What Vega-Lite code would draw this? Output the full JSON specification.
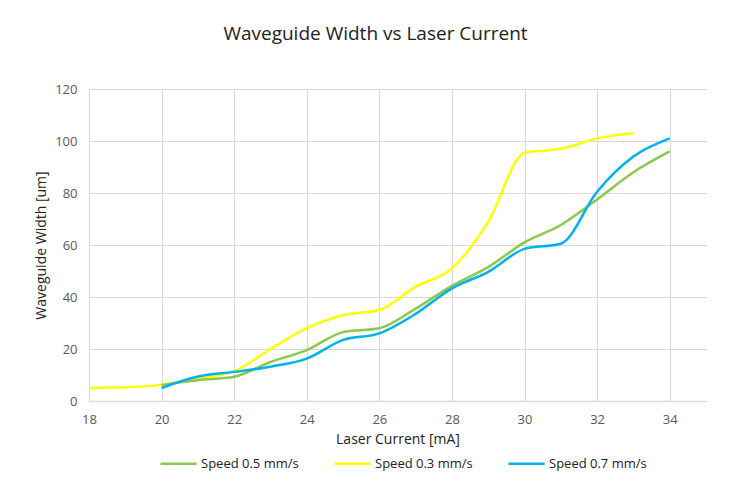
{
  "$schema": "https://vega.github.io/schema/vega-lite/v6.json",
  "width": 617,
  "height": 312,
  "autosize": {"type": "none"},
  "padding": {"left": 89, "top": 89, "right": 45, "bottom": 93},
  "background": "white",
  "title": {
    "text": "Waveguide Width vs Laser Current",
    "font": "Open Sans",
    "fontSize": 19,
    "fontWeight": "normal",
    "color": "#222222",
    "anchor": "middle",
    "dx": -22,
    "offset": 39
  },
  "data": {
    "values": [
      {"current": 18, "width": 5.1, "series": "Speed 0.3 mm/s"},
      {"current": 19, "width": 5.3, "series": "Speed 0.3 mm/s"},
      {"current": 20, "width": 6.3, "series": "Speed 0.3 mm/s"},
      {"current": 21, "width": 8.8, "series": "Speed 0.3 mm/s"},
      {"current": 22, "width": 11.5, "series": "Speed 0.3 mm/s"},
      {"current": 23, "width": 20, "series": "Speed 0.3 mm/s"},
      {"current": 24, "width": 28, "series": "Speed 0.3 mm/s"},
      {"current": 25, "width": 33, "series": "Speed 0.3 mm/s"},
      {"current": 26, "width": 35, "series": "Speed 0.3 mm/s"},
      {"current": 27, "width": 44, "series": "Speed 0.3 mm/s"},
      {"current": 28, "width": 51, "series": "Speed 0.3 mm/s"},
      {"current": 29, "width": 69, "series": "Speed 0.3 mm/s"},
      {"current": 30, "width": 95.5, "series": "Speed 0.3 mm/s"},
      {"current": 31, "width": 97, "series": "Speed 0.3 mm/s"},
      {"current": 32, "width": 101, "series": "Speed 0.3 mm/s"},
      {"current": 33, "width": 103, "series": "Speed 0.3 mm/s"},
      {"current": 20, "width": 6.2, "series": "Speed 0.5 mm/s"},
      {"current": 21, "width": 8, "series": "Speed 0.5 mm/s"},
      {"current": 22, "width": 9.3, "series": "Speed 0.5 mm/s"},
      {"current": 23, "width": 15, "series": "Speed 0.5 mm/s"},
      {"current": 24, "width": 19.6, "series": "Speed 0.5 mm/s"},
      {"current": 25, "width": 26.5, "series": "Speed 0.5 mm/s"},
      {"current": 26, "width": 28, "series": "Speed 0.5 mm/s"},
      {"current": 27, "width": 35.5, "series": "Speed 0.5 mm/s"},
      {"current": 28, "width": 44.3, "series": "Speed 0.5 mm/s"},
      {"current": 29, "width": 51.5, "series": "Speed 0.5 mm/s"},
      {"current": 30, "width": 61, "series": "Speed 0.5 mm/s"},
      {"current": 31, "width": 67.7, "series": "Speed 0.5 mm/s"},
      {"current": 32, "width": 77.5, "series": "Speed 0.5 mm/s"},
      {"current": 33, "width": 88, "series": "Speed 0.5 mm/s"},
      {"current": 34, "width": 96, "series": "Speed 0.5 mm/s"},
      {"current": 20, "width": 5, "series": "Speed 0.7 mm/s"},
      {"current": 21, "width": 9.4, "series": "Speed 0.7 mm/s"},
      {"current": 22, "width": 11.2, "series": "Speed 0.7 mm/s"},
      {"current": 23, "width": 13.2, "series": "Speed 0.7 mm/s"},
      {"current": 24, "width": 16.3, "series": "Speed 0.7 mm/s"},
      {"current": 25, "width": 23.5, "series": "Speed 0.7 mm/s"},
      {"current": 26, "width": 26, "series": "Speed 0.7 mm/s"},
      {"current": 27, "width": 33.5, "series": "Speed 0.7 mm/s"},
      {"current": 28, "width": 43.3, "series": "Speed 0.7 mm/s"},
      {"current": 29, "width": 49.7, "series": "Speed 0.7 mm/s"},
      {"current": 30, "width": 58.5, "series": "Speed 0.7 mm/s"},
      {"current": 31, "width": 60.5, "series": "Speed 0.7 mm/s"},
      {"current": 32, "width": 80.5, "series": "Speed 0.7 mm/s"},
      {"current": 33, "width": 94, "series": "Speed 0.7 mm/s"},
      {"current": 34, "width": 101, "series": "Speed 0.7 mm/s"}
    ]
  },
  "mark": {"type": "line", "interpolate": "monotone", "strokeWidth": 2.5, "clip": true},
  "encoding": {
    "x": {
      "field": "current",
      "type": "quantitative",
      "scale": {"domain": [18, 35], "nice": false, "zero": false},
      "axis": {
        "values": [18, 20, 22, 24, 26, 28, 30, 32, 34],
        "title": "Laser Current [mA]",
        "titleFont": "Open Sans",
        "titleFontSize": 14,
        "titleFontWeight": "normal",
        "titleColor": "#222222",
        "titlePadding": 6,
        "labelFont": "Open Sans",
        "labelFontSize": 13,
        "labelColor": "#595959",
        "labelPadding": 12,
        "labelFlush": false,
        "domainColor": "#d9d9d9",
        "domainWidth": 1.5,
        "ticks": false,
        "gridColor": "#d9d9d9",
        "gridWidth": 1.2
      }
    },
    "y": {
      "field": "width",
      "type": "quantitative",
      "scale": {"domain": [0, 120], "nice": false},
      "axis": {
        "values": [0, 20, 40, 60, 80, 100, 120],
        "title": "Waveguide Width [um]",
        "titleFont": "Open Sans",
        "titleFontSize": 14,
        "titleFontWeight": "normal",
        "titleColor": "#222222",
        "titlePadding": 6,
        "labelFont": "Open Sans",
        "labelFontSize": 13,
        "labelColor": "#595959",
        "labelPadding": 12,
        "domain": false,
        "ticks": false,
        "gridColor": "#d9d9d9",
        "gridWidth": 1.2
      }
    },
    "color": {
      "field": "series",
      "type": "nominal",
      "sort": ["Speed 0.5 mm/s", "Speed 0.3 mm/s", "Speed 0.7 mm/s"],
      "scale": {
        "domain": ["Speed 0.5 mm/s", "Speed 0.3 mm/s", "Speed 0.7 mm/s"],
        "range": ["#8cc84b", "#ffff00", "#00b0f0"]
      },
      "legend": {
        "title": null,
        "orient": "none",
        "legendX": 70,
        "legendY": 355,
        "direction": "horizontal",
        "symbolType": "stroke",
        "symbolSize": 1300,
        "symbolStrokeWidth": 2.5,
        "labelFont": "Open Sans",
        "labelFontSize": 13,
        "labelColor": "#222222",
        "labelOffset": 3,
        "columnPadding": 30
      }
    }
  },
  "config": {
    "view": {"stroke": null}
  }
}
